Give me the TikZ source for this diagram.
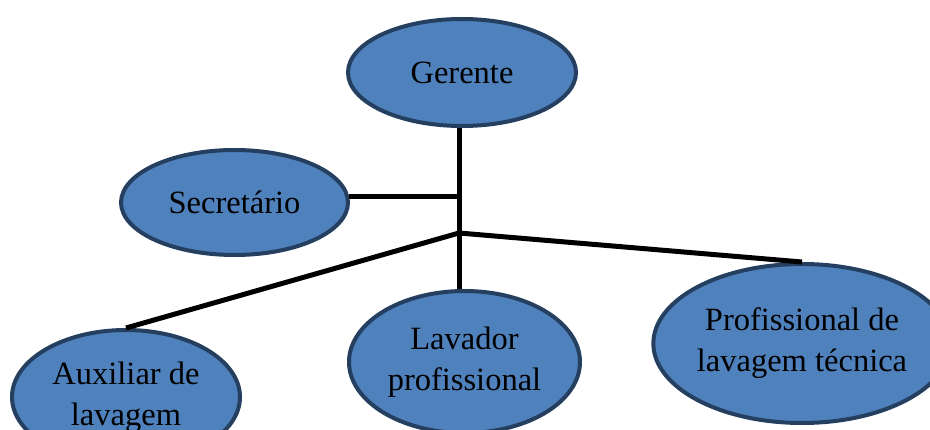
\documentclass[tikz,border=0pt]{standalone}
\usepackage{fontspec}
\setmainfont{Liberation Serif}
\usetikzlibrary{shapes.geometric}
\definecolor{roleblue}{HTML}{4F81BD}
\definecolor{roleedge}{HTML}{243F60}
\begin{document}
\begin{tikzpicture}[x=1pt, y=-1pt,
    role/.style={ellipse, draw=roleedge, line width=4pt, fill=roleblue,
        inner sep=0pt, align=center, font=\fontsize{32.5}{41}\selectfont},
    link/.style={line width=5pt}]
    \useasboundingbox (0,0) rectangle (930,430);
    \node [role, minimum width=228pt, minimum height=107pt] (g) at (462,72.5) {Gerente};
    \node [role, minimum width=227pt, minimum height=105pt] (s) at (234.5,202.5) {Secretário};
    \node [role, minimum width=228pt, minimum height=134pt] (a) at (126,397) {Auxiliar de\\lavagem};
    \node [role, minimum width=231pt, minimum height=142pt] (l) at (464.5,362) {Lavador\\profissional};
    \node [role, minimum width=251pt, minimum height=159pt] (p) at (802,343.5) {Profissional de\\lavagem técnica};
    \coordinate (hub) at (459,233);
    \draw [link] (hub |- g.south) -- (hub |- l.north);
    \draw [link] (s.3) -- (s.3 -| hub);
    \draw [link] (hub) -- (a.north);
    \draw [link] (hub) -- (p.north);
\end{tikzpicture}
\end{document}
